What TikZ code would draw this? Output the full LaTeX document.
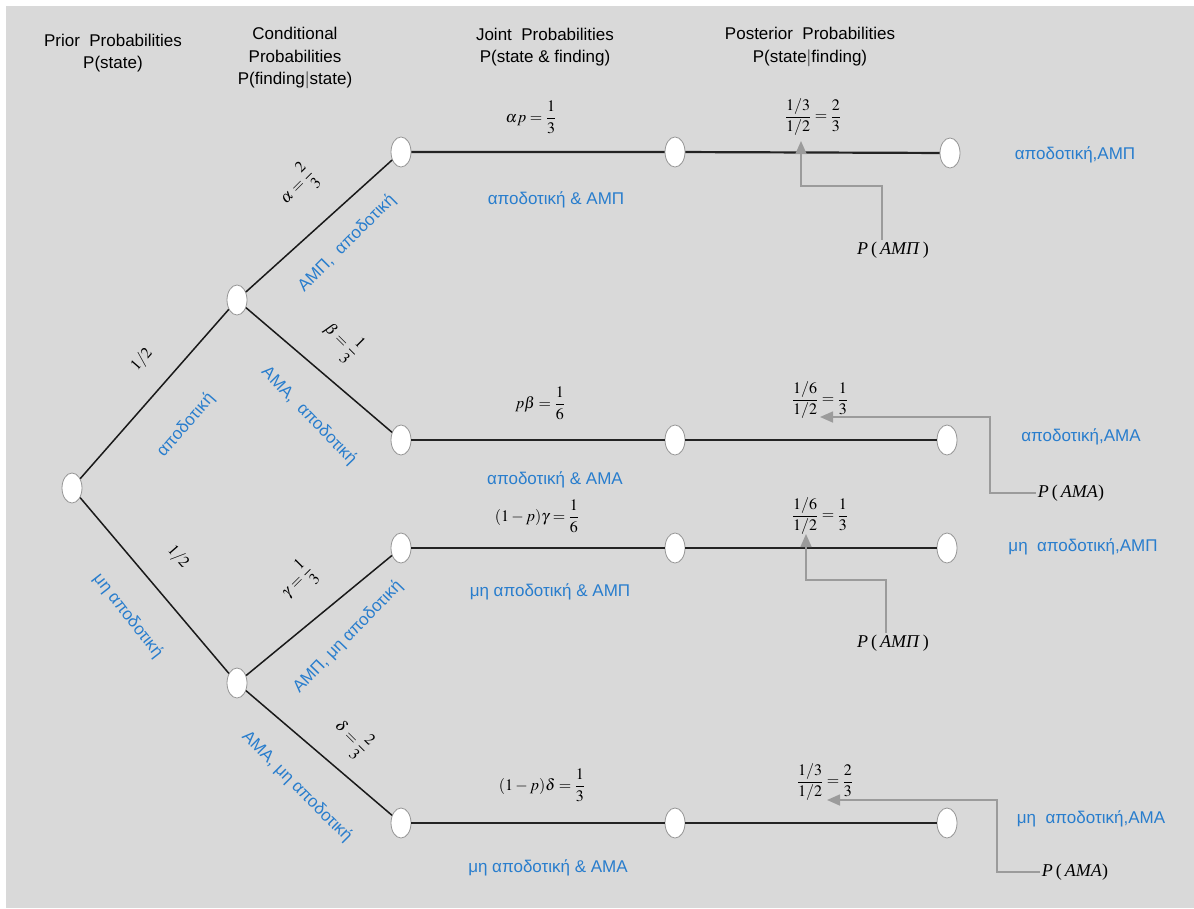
\documentclass[tikz,border=0pt]{standalone}
\usepackage{amsmath}
\usepackage{mathptmx}
\usepackage[no-math]{fontspec}
\setmainfont{Liberation Sans}
\newfontfamily\timesfont{Liberation Serif}
\usepackage{tikz}
\usetikzlibrary{shapes}
\usetikzlibrary{arrows.meta}

\begin{document}
\begin{tikzpicture}[x=1pt,y=1pt,yscale=-1,xscale=1,
  chance/.style={ellipse,draw={rgb, 255:red, 150; green, 150; blue, 150},fill=white,line width=0.8pt,minimum width=20pt,minimum height=30pt,inner sep=0pt},
  limb/.style={draw={rgb, 255:red, 25; green, 25; blue, 25},line width=1.5pt},
  stem/.style={draw={rgb, 255:red, 35; green, 35; blue, 35},line width=2.2pt},
  head/.style={align=center,inner sep=0.75pt,font=\fontsize{17}{22.5}\selectfont},
  tag/.style={inner sep=0.75pt,text={rgb, 255:red, 40; green, 125; blue, 205},font=\fontsize{17}{20}\selectfont},
  prob/.style={inner sep=0.75pt,font=\fontsize{16}{20}\selectfont},
  given/.style={inner sep=2pt,font=\fontsize{18}{20}\selectfont\timesfont},
  callout/.style={draw={rgb, 255:red, 155; green, 155; blue, 155},line width=1.6pt,-{Triangle[length=13pt,width=11pt]}}]
\useasboundingbox (0,0) rectangle (1194,908);
\fill [white] (0,0) rectangle (1194,908);
\fill [fill={rgb, 255:red, 217; green, 217; blue, 217}] (6,6) rectangle (1194,908);
\node [head] (hprior) at (113,53) {Prior~ Probabilities\\P(state)};
\node [head] (hcond) at (295,58) {Conditional\\Probabilities\\P(finding$|$state)};
\node [head] (hjoint) at (545,47) {Joint~ Probabilities\\P(state \& finding)};
\node [head] (hpost) at (810,47) {Posterior~ Probabilities\\P(state$|$finding)};
\node [chance] (r) at (72,488) {};
\node [chance] (a) at (237,300) {};
\node [chance] (b) at (237,683) {};
\node [chance] (l1) at (401,152) {};
\node [chance] (l2) at (401,440) {};
\node [chance] (l3) at (401,548) {};
\node [chance] (l4) at (401,823) {};
\node [chance] (m1) at (675,152) {};
\node [chance] (m2) at (675,440) {};
\node [chance] (m3) at (675,548) {};
\node [chance] (m4) at (675,823) {};
\node [chance] (e1) at (950,153) {};
\node [chance] (e2) at (947,440) {};
\node [chance] (e3) at (947,548) {};
\node [chance] (e4) at (947,823) {};
\draw [limb] (r) -- (a);
\draw [limb] (r) -- (b);
\draw [limb] (a) -- (l1);
\draw [limb] (a) -- (l2);
\draw [limb] (b) -- (l3);
\draw [limb] (b) -- (l4);
\draw [stem] (l1) -- (m1) -- (e1);
\draw [stem] (l2) -- (m2) -- (e2);
\draw [stem] (l3) -- (m3) -- (e3);
\draw [stem] (l4) -- (m4) -- (e4);
\node [prob,rotate=49] (pr1) at (142,360) {$1/2$};
\node [tag,rotate=49] (sr1) at (186,425) {αποδοτική};
\node [prob,rotate=-49] (pr2) at (178,557) {$1/2$};
\node [tag,rotate=-52] (sr2) at (128,616) {μη αποδοτική};
\node [prob,rotate=45] (pa1) at (297,186) {$\alpha=\dfrac{2}{3}$};
\node [tag,rotate=45] (sa1) at (347,243) {AMΠ,~ αποδοτική};
\node [prob,rotate=-45] (pa2) at (342,340) {$\beta=\dfrac{1}{3}$};
\node [tag,rotate=-46] (sa2) at (309,416) {AMA,~ αποδοτική};
\node [prob,rotate=45] (pb1) at (297,581) {$\gamma=\dfrac{1}{3}$};
\node [tag,rotate=46] (sb1) at (348,637) {AMΠ, μη αποδοτική};
\node [prob,rotate=-45] (pb2) at (352,737) {$\delta=\dfrac{2}{3}$};
\node [tag,rotate=-45] (sb2) at (297,787) {AMA, μη αποδοτική};
\node [prob] (j1) at (531,117) {$\alpha p=\dfrac{1}{3}$};
\node [prob] (j2) at (540,403) {$p\beta=\dfrac{1}{6}$};
\node [prob] (j3) at (537,516) {$(1-p)\gamma=\dfrac{1}{6}$};
\node [prob] (j4) at (542,785) {$(1-p)\delta=\dfrac{1}{3}$};
\node [prob] (c1) at (813,117) {$\dfrac{1/3}{1/2}=\dfrac{2}{3}$};
\node [prob] (c2) at (820,400) {$\dfrac{1/6}{1/2}=\dfrac{1}{3}$};
\node [prob] (c3) at (820,516) {$\dfrac{1/6}{1/2}=\dfrac{1}{3}$};
\node [prob] (c4) at (825,782) {$\dfrac{1/3}{1/2}=\dfrac{2}{3}$};
\node [tag] (n1) at (556,200) {αποδοτική \& AMΠ};
\node [tag] (n2) at (555,480) {αποδοτική \& AMA};
\node [tag] (n3) at (550,592) {μη αποδοτική \& AMΠ};
\node [tag] (n4) at (548,868) {μη αποδοτική \& AMA};
\node [tag] (f1) at (1075,155) {αποδοτική,AMΠ};
\node [tag] (f2) at (1081,437) {αποδοτική,AMA};
\node [tag] (f3) at (1083,547) {μη~ αποδοτική,AMΠ};
\node [tag] (f4) at (1091,819) {μη~ αποδοτική,AMA};
\node [given] (q1) at (893,250) {\textit{P}\,(\,\textit{AMΠ}\,)};
\node [given] (q2) at (1071,493) {\textit{P}\,(\,\textit{AMA})};
\node [given] (q3) at (893,643) {\textit{P}\,(\,\textit{AMΠ}\,)};
\node [given] (q4) at (1075,872) {\textit{P}\,(\,\textit{AMA})};
\coordinate (t1) at (801,141);
\coordinate (t2) at (820,417);
\coordinate (t3) at (806,534);
\coordinate (t4) at (827,800);
\draw [callout] (q1.north) ++(-11,0) |- ([yshift=45pt]t1) -- (t1);
\draw [callout] (q2.west) -| ([xshift=170pt]t2) -- (t2);
\draw [callout] (q3.north) ++(-7,0) |- ([yshift=46pt]t3) -- (t3);
\draw [callout] (q4.west) -| ([xshift=170pt]t4) -- (t4);
\end{tikzpicture}
\end{document}
